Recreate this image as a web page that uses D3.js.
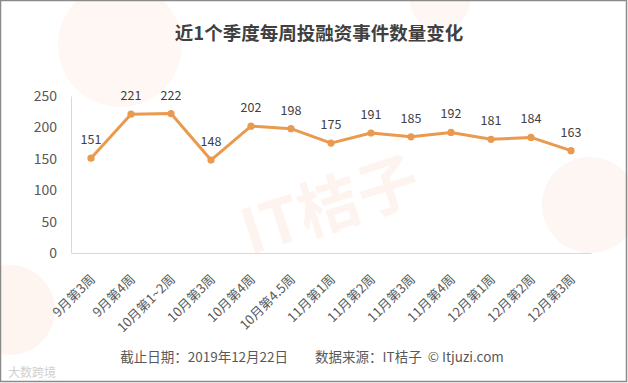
<!DOCTYPE html>
<html><head><meta charset="utf-8">
<script src="https://cdn.jsdelivr.net/npm/d3@7"></script>
<style>
html,body{margin:0;padding:0;background:#fff;}
svg{display:block;}
text{font-family:"Microsoft YaHei","Noto Sans CJK SC","Noto Sans",sans-serif;}
</style></head>
<body>
<svg id="chart" width="628" height="383"></svg>
<script>
const title = "近1个季度每周投融资事件数量变化";
const categories = ["9月第3周","9月第4周","10月第1~2周","10月第3周","10月第4周","10月第4.5周","11月第1周","11月第2周","11月第3周","11月第4周","12月第1周","12月第2周","12月第3周"];
const values = [151,221,222,148,202,198,175,191,185,192,181,184,163];
const yTicks = [0,50,100,150,200,250];
const footer = "截止日期：2019年12月22日\u3000\u3000数据来源：IT桔子  © Itjuzi.com";

const svg = d3.select("#chart");
const W = 628, H = 383;
const margin = {left:71, right:37, top:96, bottom:130};

svg.append("rect").attr("width",W).attr("height",H).attr("fill","#fff");

// faint watermarks
const wm = svg.append("g").attr("pointer-events","none");
wm.append("circle").attr("cx",120).attr("cy",45).attr("r",62).attr("fill","#fef7f3");
wm.append("circle").attr("cx",590).attr("cy",205).attr("r",48).attr("fill","#fef6f2");
wm.append("circle").attr("cx",10).attr("cy",310).attr("r",45).attr("fill","#fef5f1");
wm.append("circle").attr("cx",440).attr("cy",0).attr("r",30).attr("fill","#fef7f4");
wm.append("text").attr("x",250).attr("y",255).attr("transform","rotate(-18,250,255)")
  .attr("font-size",62).attr("font-weight","bold").attr("fill","#fef4ef")
  .text("IT桔子");

const x = d3.scaleBand().domain(categories).range([margin.left, W - margin.right]).padding(0);
const y = d3.scaleLinear().domain([0,250]).range([H - margin.bottom, margin.top]);

svg.append("text").attr("x",319).attr("y",40).attr("text-anchor","middle")
  .attr("font-size",18.5).attr("font-weight","bold").attr("fill","#404040").text(title);

const yAxis = d3.axisLeft(y).tickValues(yTicks).tickSize(0).tickPadding(14);
const gy = svg.append("g").attr("transform",`translate(${margin.left},0)`).call(yAxis);
gy.select(".domain").attr("stroke","#d9d9d9").attr("stroke-width",1);
gy.selectAll("text").attr("font-size",14).attr("fill","#595959").attr("font-family",null);

const xAxis = d3.axisBottom(x).tickSize(0).tickPadding(0);
const gx = svg.append("g").attr("transform",`translate(0,${y(0)})`).call(xAxis);
gx.select(".domain").attr("stroke","#d9d9d9").attr("stroke-width",1);
gx.selectAll(".tick text")
  .attr("font-size",13).attr("fill","#595959").attr("font-family",null)
  .attr("text-anchor","end").attr("dy",null).attr("y",null)
  .attr("transform","translate(5,27) rotate(-45)");

const cx = d => x(d) + x.bandwidth()/2;
const line = d3.line().x((d,i)=>cx(categories[i])).y(d=>y(d));
svg.append("path").datum(values).attr("d",line)
  .attr("fill","none").attr("stroke","#EA9A4E").attr("stroke-width",3).attr("stroke-linejoin","round");
svg.selectAll("circle.pt").data(values).enter().append("circle").attr("class","pt")
  .attr("cx",(d,i)=>cx(categories[i])).attr("cy",d=>y(d)).attr("r",3.6).attr("fill","#EA9A4E");
svg.selectAll("text.lbl").data(values).enter().append("text").attr("class","lbl")
  .attr("x",(d,i)=>cx(categories[i])).attr("y",d=>y(d)-14).attr("text-anchor","middle")
  .attr("font-size",12.5).attr("fill","#404040").text(d=>d);

svg.append("text").attr("x",312).attr("y",362).attr("text-anchor","middle")
  .attr("font-size",13.5).attr("fill","#595959").style("white-space","pre").text(footer);

svg.append("text").attr("x",8).attr("y",377).attr("font-size",12).attr("fill","#d0d0d0").text("大数跨境");

svg.append("rect").attr("x",0.5).attr("y",0.5).attr("width",W-2).attr("height",H-2)
  .attr("fill","none").attr("stroke","#8a8a8a").attr("stroke-width",1.5);
</script>
</body></html>
